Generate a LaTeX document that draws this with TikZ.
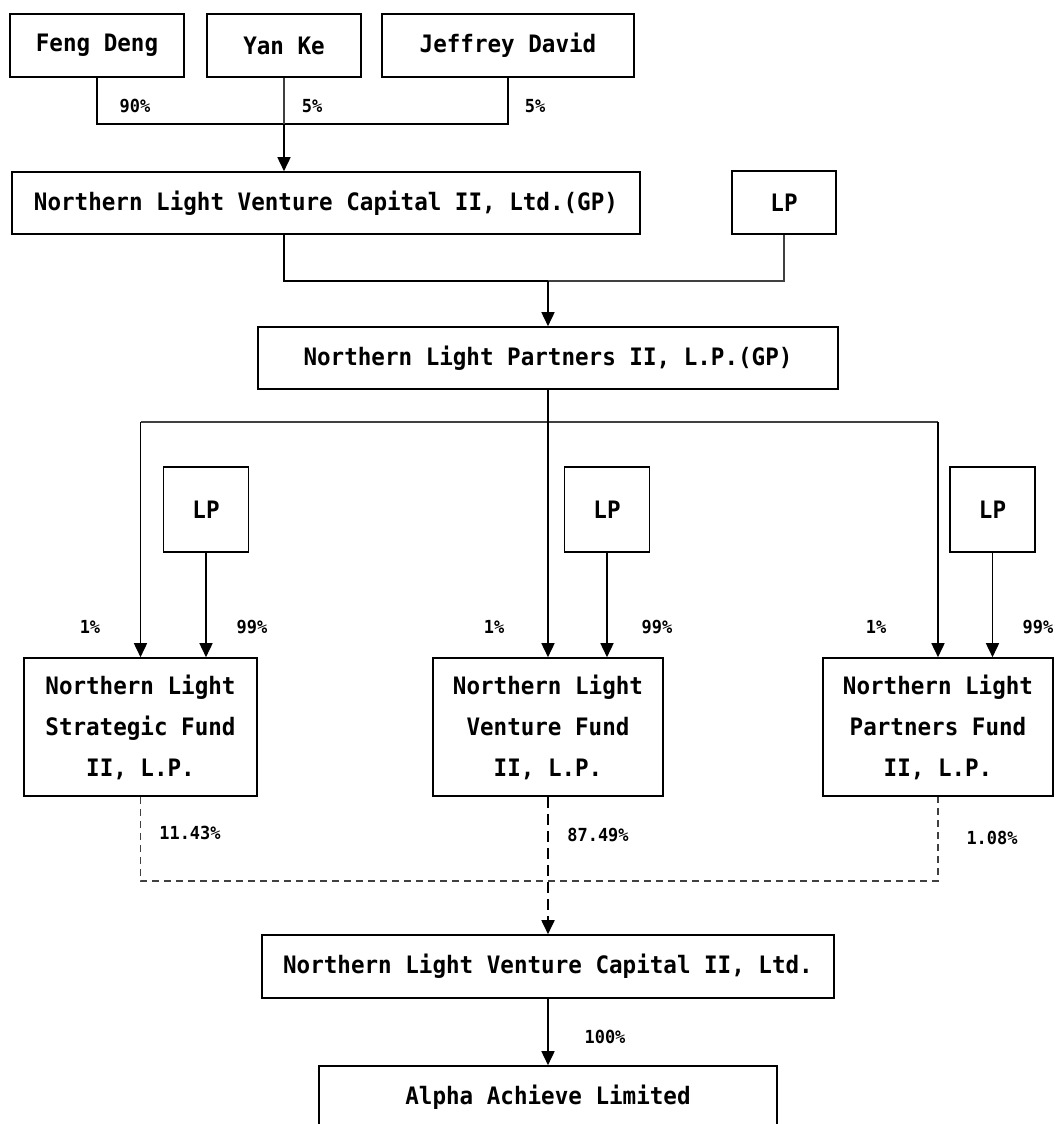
\documentclass[tikz,border=0pt]{standalone}
\usepackage{fontspec}
\setmainfont{DejaVu Sans Mono}[FakeStretch=0.94]
\usetikzlibrary{arrows.meta}

\tikzset{
    box/.style={draw, line width=1.6bp, align=center, inner sep=0pt,
        font=\bfseries\fontsize{24bp}{41bp}\selectfont},
    pct/.style={font=\bfseries\fontsize{18bp}{20bp}\selectfont, inner sep=0pt},
    link/.style={line width=1.5bp},
    thinlink/.style={line width=1.2bp, black!75},
    arr/.style={line width=1.6bp, ->},
    dashthin/.style={line width=1.1bp, black!75, dash pattern=on 7bp off 5bp},
    dashthick/.style={line width=1.8bp, dash pattern=on 11bp off 6bp, ->}
}

\begin{document}
\begin{tikzpicture}[x=1bp, y=-1bp, >={Triangle[length=14bp, width=13bp]}]
    \useasboundingbox (0,0) rectangle (1057,1124);

    % Draw the owners on top
    \node[box, minimum width=174bp, minimum height=63bp] (feng) at (97,45.5) {Feng Deng};
    \node[box, minimum width=154bp, minimum height=63bp] (yan) at (284,45.5) {Yan Ke};
    \node[box, minimum width=252bp, minimum height=63bp] (jeff) at (508,45.5) {Jeffrey David};

    % Draw the GP and LP of the second level
    \node[box, minimum width=628bp, minimum height=62bp] (gpc) at (326,203) {Northern Light Venture Capital II, Ltd.(GP)};
    \node[box, minimum width=104bp, minimum height=63bp] (lptop) at (784,202.5) {LP};
    \node[box, minimum width=580bp, minimum height=62bp] (gpp) at (548,358) {Northern Light Partners II, L.P.(GP)};

    % Draw the three funds and their LPs
    \node[box, minimum width=85bp, minimum height=85bp] (lpa) at (206,509.5) {LP};
    \node[box, minimum width=85bp, minimum height=85bp] (lpb) at (607,509.5) {LP};
    \node[box, minimum width=85bp, minimum height=85bp] (lpc) at (992.5,509.5) {LP};
    \node[box, minimum width=233bp, minimum height=138bp] (funda) at (140.5,727) {Northern Light\\Strategic Fund\\II, L.P.};
    \node[box, minimum width=230bp, minimum height=138bp] (fundb) at (548,727) {Northern Light\\Venture Fund\\II, L.P.};
    \node[box, minimum width=230bp, minimum height=138bp] (fundc) at (938,727) {Northern Light\\Partners Fund\\II, L.P.};

    % Draw the holding company and the target
    \node[box, minimum width=572bp, minimum height=63bp] (nlvc) at (548,966.5) {Northern Light Venture Capital II, Ltd.};
    \node[box, minimum width=458bp, minimum height=63bp] (alpha) at (548,1097.5) {Alpha Achieve Limited};

    % Lines from the owners
    \coordinate (bustop) at (284,124);
    \draw[link] (feng.south) |- (bustop) -| (jeff.south);
    \draw[thinlink] (yan.south) -- (bustop);
    \draw[arr] (bustop) -- (bustop |- gpc.north);

    % Lines from GP and LP
    \coordinate (busgp) at (548,281);
    \draw[link] (gpc.south -| bustop) |- (busgp);
    \draw[thinlink] (busgp) -| (lptop.south);
    \draw[arr] (busgp) -- (gpp.north);

    % Lines to the funds
    \coordinate (busfund) at (548,422);
    \draw[thinlink] (funda.north |- busfund) -- (fundc.north |- busfund);
    \draw[arr] (gpp.south) -- (fundb.north);
    \draw[arr] (funda.north |- busfund) -- (funda.north);
    \draw[arr] (fundc.north |- busfund) -- (fundc.north);
    \draw[arr] (lpa.south) -- (lpa.south |- funda.north);
    \draw[arr] (lpb.south) -- (lpb.south |- fundb.north);
    \draw[arr] (lpc.south) -- (lpc.south |- fundc.north);

    % Dashed lines to the holding company
    \coordinate (busdash) at (548,881);
    \draw[dashthin] (funda.south) |- (busdash) -| (fundc.south);
    \draw[dashthick] (fundb.south) -- (nlvc.north);
    \draw[arr] (nlvc.south) -- (alpha.north);

    % Add percentages
    \node[pct] (p90) at (135,106) {90\%};
    \node[pct] (p5a) at (312,106) {5\%};
    \node[pct] (p5b) at (535,106) {5\%};
    \node[pct] (p1a) at (90,627) {1\%};
    \node[pct] (p99a) at (252,627) {99\%};
    \node[pct] (p1b) at (494,627) {1\%};
    \node[pct] (p99b) at (657,627) {99\%};
    \node[pct] (p1c) at (876,627) {1\%};
    \node[pct] (p99c) at (1038,627) {99\%};
    \node[pct] (p11) at (190,833) {11.43\%};
    \node[pct] (p87) at (598,835) {87.49\%};
    \node[pct] (p108) at (992,838) {1.08\%};
    \node[pct] (p100) at (605,1037) {100\%};
\end{tikzpicture}
\end{document}
